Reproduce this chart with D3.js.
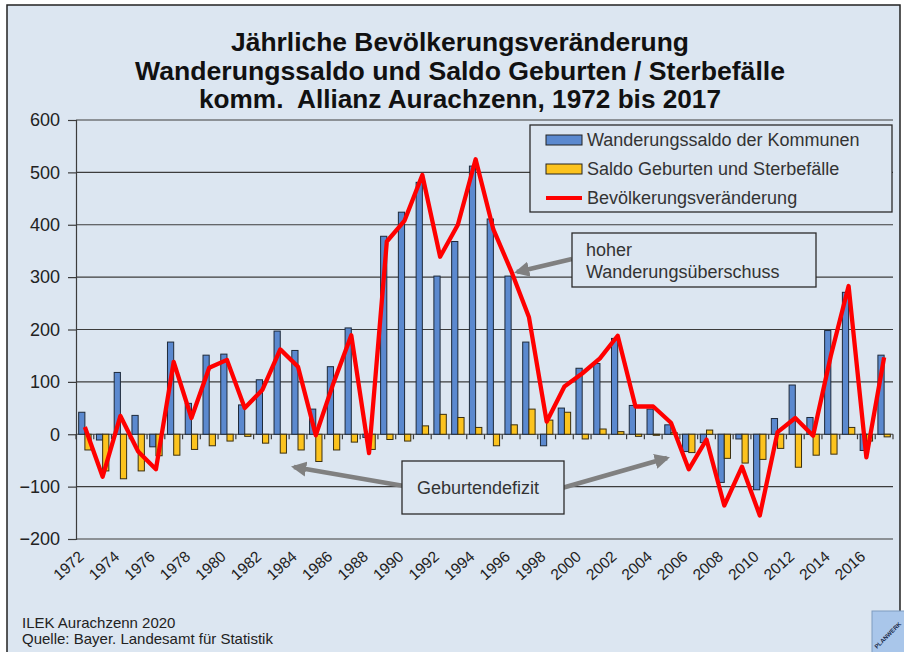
<!DOCTYPE html>
<html>
<head>
<meta charset="utf-8">
<script src="https://cdn.jsdelivr.net/npm/d3@7/dist/d3.min.js"></script>
<style>
  html, body { margin: 0; padding: 0; background: #fff; }
  svg { display: block; font-family: "Liberation Sans", Arial, sans-serif; }
</style>
</head>
<body>
<svg width="904" height="652"></svg>
<script>
var years = [1972, 1973, 1974, 1975, 1976, 1977, 1978, 1979, 1980, 1981,
             1982, 1983, 1984, 1985, 1986, 1987, 1988, 1989, 1990, 1991,
             1992, 1993, 1994, 1995, 1996, 1997, 1998, 1999, 2000, 2001,
             2002, 2003, 2004, 2005, 2006, 2007, 2008, 2009, 2010, 2011,
             2012, 2013, 2014, 2015, 2016, 2017];

// Wanderungssaldo der Kommunen
var wanderung = [42, -11, 118, 36, -24, 176, 59, 151, 153, 56,
                 104, 197, 160, 48, 129, 203, -6, 378, 424, 481,
                 302, 368, 512, 411, 302, 176, -22, 50, 126, 135,
                 183, 55, 48, 18, -33, -16, -92, -9, -106, 30,
                 94, 32, 198, 271, -31, 151];

// Saldo Geburten und Sterbefälle
var geburten = [-30, -70, -85, -70, -41, -40, -29, -22, -13, -4,
                -17, -36, -30, -52, -30, -15, -29, -10, -13, 16,
                38, 32, 13, -22, 18, 48, 27, 42, -9, 10,
                5, -4, -2, 3, -35, 8, -46, -55, -48, -27,
                -63, -40, -38, 13, -13, -5];

// Bevölkerungsveränderung
var veraenderung = [14, -81, 35, -33, -67, 138, 31, 127, 142, 50,
                    85, 162, 129, -2, 98, 189, -36, 368, 408, 495,
                    339, 400, 525, 391, 312, 224, 24, 91, 116, 145,
                    188, 53, 53, 22, -67, -10, -136, -62, -155, 4,
                    31, -3, 150, 283, -44, 147];

var labelYears = [1972, 1974, 1976, 1978, 1980, 1982, 1984, 1986, 1988, 1990,
                  1992, 1994, 1996, 1998, 2000, 2002, 2004, 2006, 2008, 2010,
                  2012, 2014, 2016];
var yTicks = [-200, -100, 0, 100, 200, 300, 400, 500, 600];

var titleLines = ["Jährliche Bevölkerungsveränderung",
                  "Wanderungssaldo und Saldo Geburten / Sterbefälle",
                  "komm.  Allianz Aurachzenn, 1972 bis 2017"];
var legendLabels = ["Wanderungssaldo der Kommunen",
                    "Saldo Geburten und Sterbefälle",
                    "Bevölkerungsveränderung"];
var footerLines = ["ILEK Aurachzenn 2020", "Quelle: Bayer. Landesamt für Statistik"];

var data = years.map(function(yr, i) {
  return {year: yr, w: wanderung[i], g: geburten[i], v: veraenderung[i]};
});

var svg = d3.select("svg"),
    margin = {top: 120, right: 11, bottom: 113, left: 76},
    width = +svg.attr("width"),
    height = +svg.attr("height");

var bg = "#dce6f1";
var blue = "#5b89cf", yellow = "#fcc31e", red = "#ff0000", grey = "#808080";

// panel background with border
svg.append("rect")
    .attr("x", 7).attr("y", 5)
    .attr("width", 893).attr("height", 660)
    .attr("fill", bg)
    .attr("stroke", "#222")
    .attr("stroke-width", 1.5);

var x = d3.scaleBand()
    .domain(years)
    .range([margin.left, width - margin.right])
    .paddingInner(0).paddingOuter(0);

var x1 = d3.scaleBand()
    .domain(["w", "g"])
    .range([0, x.bandwidth()])
    .paddingInner(0).paddingOuter(0.43);

var y = d3.scaleLinear()
    .domain([-200, 600])
    .range([height - margin.bottom, margin.top]);

// title
svg.append("g").selectAll("text")
  .data(titleLines)
  .enter().append("text")
    .attr("x", 460)
    .attr("y", function(d, i) { return 51 + i * 28.5; })
    .attr("text-anchor", "middle")
    .attr("font-size", 26)
    .attr("font-weight", "bold")
    .attr("fill", "#111")
    .attr("xml:space", "preserve")
    .attr("textLength", function(d, i) { return [458, 650, 522][i]; })
    .attr("lengthAdjust", "spacingAndGlyphs")
    .text(function(d) { return d; });

// gridlines
svg.append("g")
  .selectAll("line")
  .data(yTicks)
  .enter().append("line")
    .attr("x1", margin.left)
    .attr("x2", width - margin.right)
    .attr("y1", function(d) { return y(d); })
    .attr("y2", function(d) { return y(d); })
    .attr("stroke", "#3c3c3c")
    .attr("stroke-width", 1.2);

// y axis
var yAxis = svg.append("g")
    .attr("transform", "translate(" + margin.left + ",0)")
    .call(d3.axisLeft(y).tickValues(yTicks).tickSize(8).tickPadding(8));
yAxis.selectAll("path, line").attr("stroke", "#3c3c3c").attr("stroke-width", 1.2);
yAxis.selectAll("text")
    .attr("font-size", 18)
    .attr("font-family", "Liberation Sans, Arial, sans-serif")
    .attr("fill", "#222");

// bars
var groups = svg.append("g")
  .selectAll("g")
  .data(data)
  .enter().append("g")
    .attr("transform", function(d) { return "translate(" + x(d.year) + ",0)"; });

groups.append("rect")
    .attr("x", x1("w"))
    .attr("width", x1.bandwidth())
    .attr("y", function(d) { return y(Math.max(0, d.w)); })
    .attr("height", function(d) { return Math.abs(y(d.w) - y(0)); })
    .attr("fill", blue)
    .attr("stroke", "#1e2a3a")
    .attr("stroke-width", 1);

groups.append("rect")
    .attr("x", x1("g"))
    .attr("width", x1.bandwidth())
    .attr("y", function(d) { return y(Math.max(0, d.g)); })
    .attr("height", function(d) { return Math.abs(y(d.g) - y(0)); })
    .attr("fill", yellow)
    .attr("stroke", "#3a2f10")
    .attr("stroke-width", 1);

// category ticks on the zero line
svg.append("g")
  .selectAll("line")
  .data(years.concat([null]))
  .enter().append("line")
    .attr("x1", function(d) { return d === null ? x.range()[1] : x(d); })
    .attr("x2", function(d) { return d === null ? x.range()[1] : x(d); })
    .attr("y1", y(0))
    .attr("y2", y(0) + 5)
    .attr("stroke", "#3c3c3c")
    .attr("stroke-width", 1.2);

// year labels
svg.append("g")
  .selectAll("text")
  .data(labelYears)
  .enter().append("text")
    .attr("transform", function(d) {
      return "translate(" + (x(d) + x.bandwidth() / 2) + "," + (y(-200) + 19) + ") rotate(-42)";
    })
    .attr("text-anchor", "end")
    .attr("font-size", 15.5)
    .attr("fill", "#222")
    .text(function(d) { return d; });

// population change line
var line = d3.line()
    .x(function(d) { return x(d.year) + x.bandwidth() / 2; })
    .y(function(d) { return y(d.v); });

svg.append("path")
    .datum(data)
    .attr("d", line)
    .attr("fill", "none")
    .attr("stroke", red)
    .attr("stroke-width", 4.3)
    .attr("stroke-linejoin", "round");

// legend
var legend = svg.append("g");
legend.append("rect")
    .attr("x", 530).attr("y", 125)
    .attr("width", 362).attr("height", 87)
    .attr("fill", bg).attr("stroke", "#2b2b2b").attr("stroke-width", 1.3);

var rows = legend.selectAll("g")
  .data(legendLabels)
  .enter().append("g")
    .attr("transform", function(d, i) { return "translate(546," + (140 + i * 29) + ")"; });

rows.filter(function(d, i) { return i < 2; }).append("rect")
    .attr("x", 0).attr("y", -5)
    .attr("width", 36).attr("height", 10)
    .attr("fill", function(d, i) { return i === 0 ? blue : yellow; })
    .attr("stroke", "#222");

rows.filter(function(d, i) { return i === 2; }).append("line")
    .attr("x1", 0).attr("x2", 36)
    .attr("stroke", red).attr("stroke-width", 4);

rows.append("text")
    .attr("x", 41)
    .attr("dy", "0.35em")
    .attr("font-size", 18)
    .attr("fill", "#333")
    .text(function(d) { return d; });

// annotations
var defs = svg.append("defs");
defs.append("marker")
    .attr("id", "head")
    .attr("viewBox", "0 0 10 10")
    .attr("refX", 8).attr("refY", 5)
    .attr("markerWidth", 3.4).attr("markerHeight", 3.4)
    .attr("markerUnits", "strokeWidth")
    .attr("orient", "auto")
  .append("path")
    .attr("d", "M0,0 L10,5 L0,10 Z")
    .attr("fill", grey);

function arrow(x1p, y1p, x2p, y2p) {
  svg.append("line")
      .attr("x1", x1p).attr("y1", y1p)
      .attr("x2", x2p).attr("y2", y2p)
      .attr("stroke", grey)
      .attr("stroke-width", 4.5)
      .attr("marker-end", "url(#head)");
}

arrow(572, 259, 517, 272);
svg.append("rect")
    .attr("x", 572).attr("y", 233)
    .attr("width", 244).attr("height", 54)
    .attr("fill", bg).attr("stroke", "#2b2b2b").attr("stroke-width", 1.3);
svg.append("text")
    .attr("x", 586).attr("font-size", 18).attr("fill", "#333")
    .selectAll("tspan")
    .data(["hoher", "Wanderungsüberschuss"])
    .enter().append("tspan")
      .attr("x", 586)
      .attr("y", function(d, i) { return 256 + i * 22; })
      .text(function(d) { return d; });

arrow(404, 486, 294, 467);
arrow(562, 488, 667, 458);
svg.append("rect")
    .attr("x", 402).attr("y", 461)
    .attr("width", 162).attr("height", 53)
    .attr("fill", bg).attr("stroke", "#2b2b2b").attr("stroke-width", 1.3);
svg.append("text")
    .attr("x", 478).attr("y", 488)
    .attr("dy", "0.35em")
    .attr("text-anchor", "middle")
    .attr("font-size", 18).attr("fill", "#333")
    .text("Geburtendefizit");

// footer
svg.append("g").selectAll("text")
  .data(footerLines)
  .enter().append("text")
    .attr("x", 22)
    .attr("y", function(d, i) { return 628 + i * 15.5; })
    .attr("font-size", 15)
    .attr("fill", "#222")
    .text(function(d) { return d; });

// logo corner
var logo = svg.append("g").attr("transform", "translate(872,611)");
logo.append("rect")
    .attr("width", 40).attr("height", 50)
    .attr("fill", "#a9c6ea").attr("stroke", "#7f9cc0");
logo.append("text")
    .attr("transform", "translate(5,38) rotate(-45)")
    .attr("font-size", 6).attr("font-weight", "bold").attr("fill", "#1b2a4a")
    .text("PLANWERK");
</script>
</body>
</html>
